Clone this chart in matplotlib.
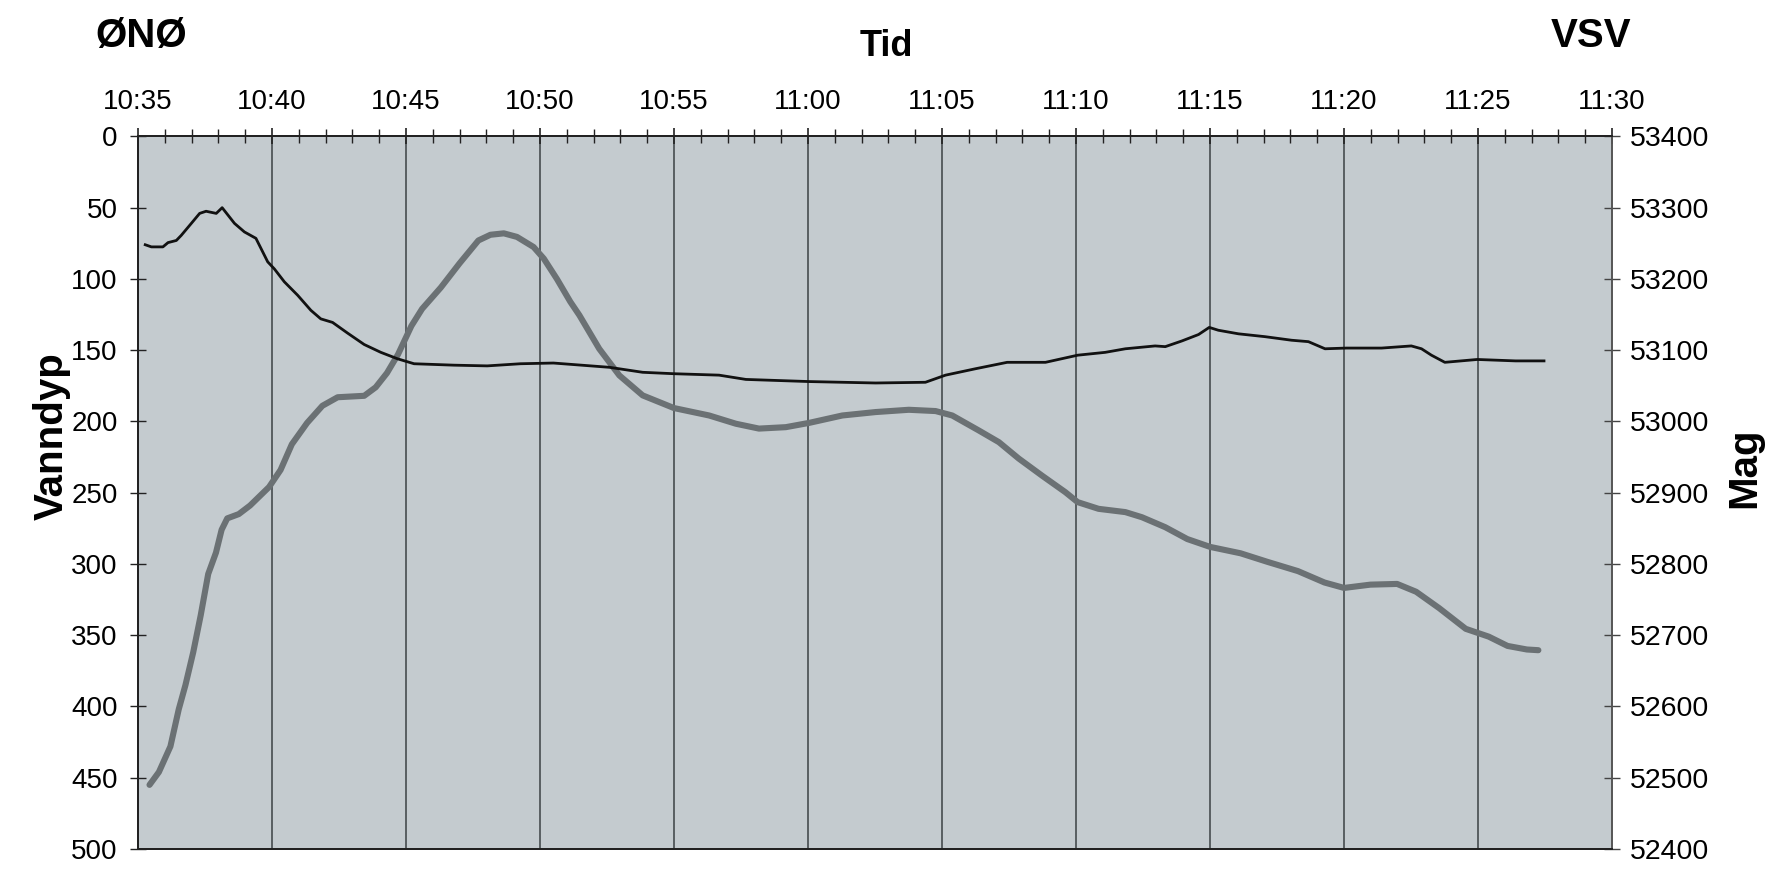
import numpy as np
import matplotlib
matplotlib.use("Agg")
import matplotlib.pyplot as plt

plt.rcParams['font.family'] = ['Liberation Sans', 'DejaVu Sans']

# tid i minutter etter 10:35
tick_labels = ["10:35", "10:40", "10:45", "10:50", "10:55", "11:00",
               "11:05", "11:10", "11:15", "11:20", "11:25", "11:30"]

# vanndyp (tykk grå kurve, venstre akse)
dyp_min = [0.43, 0.78, 1.21, 1.52, 1.77, 2.06, 2.34, 2.62, 2.91, 3.12, 3.33, 3.76,
           4.18, 4.89, 5.32, 5.74, 6.31, 6.88, 7.45, 8.44, 8.87, 9.29, 9.7, 10.2,
           10.6, 11.3, 12.0, 12.7, 13.15, 13.65, 14.14, 14.76, 15.14, 15.63, 16.13,
           16.47, 17.21, 17.96, 18.83, 20.0, 21.31, 22.31, 23.17, 24.17, 25.04,
           26.28, 27.52, 28.76, 29.76, 30.38, 31.37, 32.12, 32.86, 33.73, 34.6,
           35.06, 35.84, 36.84, 37.46, 38.33, 39.15, 40.0, 41.14, 42.14, 43.28,
           44.27, 45.0, 45.98, 46.98, 47.69, 48.55, 49.54, 50.4, 51.1, 51.82, 52.25]
dyp_m = [455, 446, 428, 402, 385, 362, 336, 307, 292, 276, 268, 265,
         259, 246, 234, 216, 201, 189, 183, 182, 176, 166, 153, 133,
         121, 106, 89, 73, 69, 68, 70.5, 77.6, 85.7, 100, 116,
         125.5, 149, 167.7, 181.7, 190.6, 195.8, 201.6, 205, 204, 201,
         195.8, 193.4, 191.8, 192.7, 195.8, 206.3, 214.5, 226, 238, 249.6,
         256.6, 261.3, 263.6, 267.2, 274.2, 282.5, 288, 292.5, 298.5, 305,
         313, 316.8, 314.5, 314, 319.5, 331, 345.5, 351, 357.5, 360, 360.5]

# magnetometer (tynn svart kurve, høyre akse)
mag_min = [0.27, 0.5, 0.93, 1.12, 1.43, 1.61, 1.99, 2.3, 2.54, 2.92, 3.14, 3.6,
           3.97, 4.4, 4.84, 5.09, 5.46, 5.96, 6.45, 6.82, 7.26, 7.82, 8.44, 9.06,
           9.68, 10.3, 11.79, 13.03, 14.27, 15.5, 17.59, 18.83, 20.0, 21.68,
           22.68, 25.04, 27.52, 29.38, 30.13, 31.25, 32.43, 33.86, 35.06, 36.09,
           36.84, 37.95, 38.33, 38.95, 39.57, 39.97, 40.31, 41.06, 42.05, 43.04,
           43.67, 44.29, 45.09, 46.4, 47.51, 47.89, 48.26, 48.76, 49.97, 51.4, 52.46]
mag_nT = [53248, 53245, 53245, 53251, 53254, 53261, 53278, 53292, 53295, 53292, 53300, 53278,
          53266, 53257, 53224, 53214, 53196, 53177, 53156, 53144, 53139, 53124, 53108, 53097,
          53088, 53081, 53079, 53078, 53081, 53082, 53076, 53069, 53067, 53065,
          53059, 53056, 53054, 53055, 53065, 53074, 53083, 53083, 53093, 53097,
          53102, 53106, 53105, 53113, 53122, 53132, 53128, 53123, 53119, 53114,
          53112, 53102, 53103, 53103, 53106, 53102, 53093, 53083, 53087, 53085, 53085]

fig = plt.figure(figsize=(17.76, 8.69), dpi=100)
ax = fig.add_axes([0.0777, 0.023, 0.83, 0.82])
ax.set_facecolor('#c4cbcf')

ax.plot(dyp_min, dyp_m, color='#6b7174', lw=4.4, solid_capstyle='round', zorder=3)
ax.set_ylim(500, 0)
ax.set_xlim(0, 55)

ax.xaxis.tick_top()
ax.set_xticks(np.arange(0, 56, 5))
ax.set_xticklabels(tick_labels)
ax.set_xticks(np.arange(0, 56, 1), minor=True)
ax.set_yticks(np.arange(0, 501, 50))
for x in range(5, 55, 5):
    ax.axvline(x, color='#3c4144', lw=1.1, zorder=1)

ax.tick_params(axis='x', which='major', direction='inout', length=12, width=1.2,
               labelsize=20, pad=9.5, color='#222')
ax.tick_params(axis='x', which='minor', direction='inout', length=10, width=1.0,
               color='#222')
ax.tick_params(axis='y', direction='inout', length=11, width=1.0,
               labelsize=20, pad=9, color='#222')

ax2 = ax.twinx()
ax2.plot(mag_min, mag_nT, color='#111111', lw=2.0, zorder=4)
ax2.set_ylim(52400, 53400)
ax2.set_yticks(np.arange(52400, 53401, 100))
ax2.tick_params(axis='y', direction='inout', length=11, width=1.0,
                labelsize=20.5, pad=7, color='#444')

for a in (ax, ax2):
    for s in ('left', 'top', 'bottom'):
        a.spines[s].set_color('#222')
        a.spines[s].set_linewidth(1.4)
    a.spines['right'].set_color('#555')
    a.spines['right'].set_linewidth(1.2)

fig.text(0.0797, 0.958, "ØNØ", fontsize=29, fontweight='bold', ha='center', va='center')
fig.text(0.896, 0.958, "VSV", fontsize=29, fontweight='bold', ha='center', va='center')
fig.text(0.499, 0.9466, "Tid", fontsize=26, fontweight='bold', ha='center', va='center')
fig.text(0.029, 0.498, "Vanndyp", fontsize=29, fontweight='bold', ha='center', va='center',
         rotation=90)
fig.text(0.982, 0.462, "Mag", fontsize=29, fontweight='bold', ha='center', va='center',
         rotation=90)

fig.savefig("out.png", dpi=100)
